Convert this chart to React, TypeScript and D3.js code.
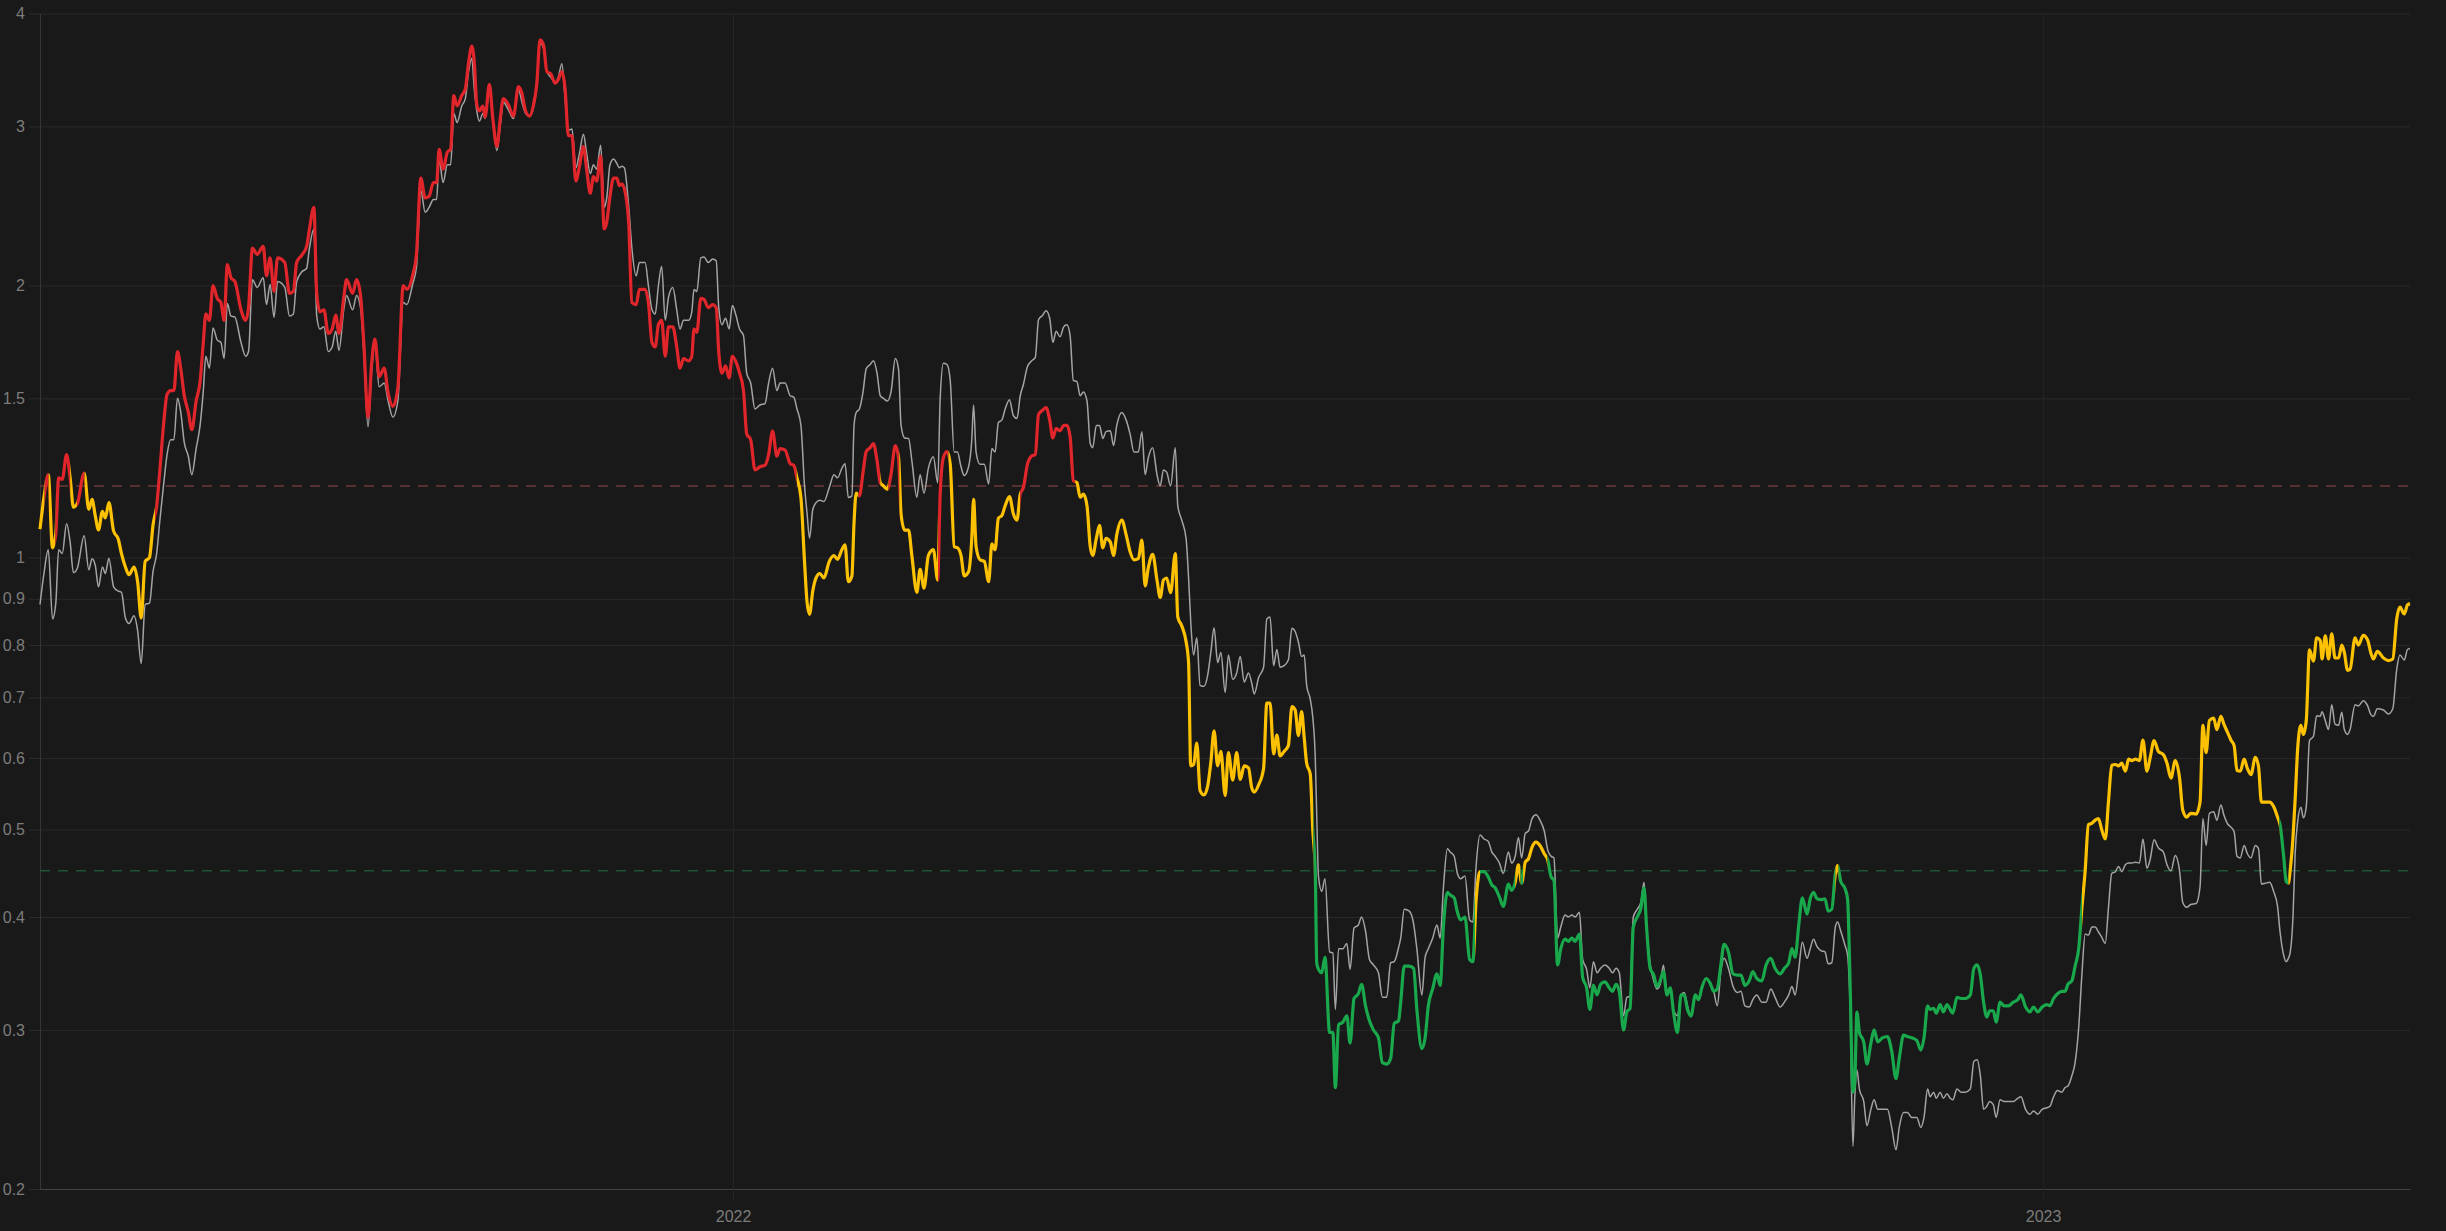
import * as d3 from 'd3';
import { useEffect, useRef } from 'react';

const WIDTH = 2446;
const HEIGHT = 1231;

// day 0 sits on the left edge of the plot (21 June 2021, late evening UTC)
const DAY0 = Date.UTC(2021, 5, 21, 22);
const LAST_DAY = 660.3;

const yTicks = [0.2, 0.3, 0.4, 0.5, 0.6, 0.7, 0.8, 0.9, 1, 1.5, 2, 3, 4];
const yearTicks = ['2022-01-01', '2023-01-01'];
const upperBand = 1.2;
const lowerBand = 0.45;

// colour of the indicator line, switching at these day offsets
const zoneStarts = [
    0, 1.3, 2.4, 4.3, 8.4, 10.3, 12.4, 32.1,
    210.8, 228.0, 234.1, 236.4, 239.4, 250.2, 253.1, 273.1, 288.4,
    354.8, 399.8, 401.2, 411.0, 412.5, 413.2, 420.0,
    500.2, 501.1, 568.9, 623.9, 626.4,
];
const zoneColours = [
    'yellow', 'red', 'yellow', 'red', 'yellow', 'red', 'yellow', 'red',
    'yellow', 'red', 'yellow', 'red', 'yellow', 'red', 'yellow', 'red', 'yellow',
    'green', 'yellow', 'green', 'yellow', 'green', 'yellow', 'green',
    'yellow', 'green', 'yellow', 'green', 'yellow',
];
const palette: Record<string, string> = { red: '#e1262b', yellow: '#fdc103', green: '#19a84c' };

const dayOffsets = [
    0, 1.1, 2.3, 3.5, 4.4, 5.2, 6.2, 7.4, 8.4, 9.3,
    10.4, 12.3, 13.6, 14.5, 15.4, 16.3, 17.4, 18.2, 19.2, 20.5,
    21.8, 22.7, 23.8, 24.8, 26.2, 27.2, 28.2, 29.3, 30.5, 31.5,
    32.5, 33.4, 34.4, 35.4, 36.4, 37.3, 38.3, 39.2, 40.2, 41.3,
    42.3, 43.5, 44.6, 45.5, 46.2, 47.2, 48.2, 49.4, 50.4, 51.3,
    52.2, 53.2, 54.3, 56.0, 57.3, 58.1, 59.2, 60.5, 62.2, 63.1,
    64.1, 65.2, 66.2, 68.2, 69.5, 70.6, 71.5, 72.9, 74.3, 75.0,
    76.3, 77.1, 78.0, 79.1, 80.3, 81.4, 82.4, 83.3, 84.7, 85.4,
    87.1, 88.2, 89.3, 90.2, 91.4, 92.4, 93.3, 94.5, 95.9, 97.0,
    98.3, 99.7, 101.2, 102.2, 103.8, 104.9, 106.1, 107.3, 108.4, 109.6,
    110.5, 111.2, 112.3, 113.5, 114.4, 115.3, 116.2, 117.5, 118.5, 119.4,
    120.3, 121.0, 121.7, 122.4, 123.4, 124.0, 125.2, 126.2, 127.3, 128.2,
    129.1, 130.5, 131.9, 133.3, 134.2, 135.3, 136.4, 137.5, 138.4, 139.3,
    140.3, 141.2, 142.3, 143.5, 144.4, 145.4, 146.3, 147.2, 148.2, 149.3,
    150.3, 151.4, 152.3, 153.3, 154.2, 155.1, 156.2, 157.2, 157.9, 158.8,
    159.8, 160.7, 161.4, 162.1, 162.8, 164.0, 164.9, 166.1, 167.0, 168.6,
    169.5, 170.5, 171.4, 172.3, 173.2, 174.2, 175.1, 176.3, 177.4, 178.3,
    179.3, 180.7, 181.6, 182.2, 183.0, 184.1, 185.0, 186.2, 187.4, 188.4,
    189.1, 190.0, 191.0, 192.0, 192.9, 193.8, 194.9, 196.0, 196.9, 198.0,
    199.2, 200.6, 202.0, 203.0, 204.1, 205.3, 206.2, 207.6, 209.0, 210.0,
    210.9, 212.0, 213.0, 213.7, 214.4, 215.3, 216.2, 217.3, 218.4, 219.9,
    221.2, 222.2, 223.4, 224.3, 225.2, 226.2, 226.8, 227.4, 228.3, 229.3,
    230.2, 231.3, 232.2, 233.2, 234.1, 235.0, 236.1, 237.1, 238.3, 239.2,
    239.9, 240.9, 242.0, 242.9, 244.3, 245.2, 246.3, 247.5, 248.9, 250.1,
    250.8, 251.7, 252.7, 253.6, 254.7, 255.6, 256.6, 257.5, 258.7, 259.6,
    260.1, 260.8, 261.9, 263.1, 264.3, 265.2, 266.1, 267.0, 268.0, 268.9,
    270.1, 271.2, 272.2, 273.1, 274.0, 275.1, 276.3, 277.3, 278.2, 279.3,
    280.3, 281.3, 282.2, 283.1, 284.2, 285.2, 286.1, 287.0, 287.9, 288.9,
    289.8, 290.7, 291.7, 292.6, 293.3, 294.3, 295.2, 296.1, 297.0, 298.2,
    299.1, 300.0, 301.4, 302.6, 303.7, 304.8, 306.0, 307.0, 307.9, 308.8,
    310.0, 311.2, 312.1, 313.0, 313.9, 315.0, 316.3, 317.0, 318.1, 319.3,
    320.0, 320.6, 321.4, 322.3, 323.2, 324.3, 325.3, 326.2, 327.1, 328.1,
    329.0, 330.2, 331.1, 332.3, 333.4, 334.4, 335.5, 336.7, 337.6, 338.3,
    339.5, 340.9, 341.8, 342.7, 343.7, 344.6, 345.5, 346.6, 347.8, 348.8,
    349.7, 350.6, 351.5, 352.2, 352.9, 353.9, 354.6, 355.3, 355.7, 356.2,
    357.1, 358.0, 359.3, 360.2, 360.9, 361.8, 363.0, 364.1, 365.0, 366.1,
    367.3, 368.2, 369.3, 370.4, 371.5, 372.9, 374.0, 375.2, 376.3, 377.3,
    378.5, 379.1, 380.1, 381.5, 382.7, 383.6, 385.0, 385.9, 386.8, 388.0,
    389.2, 390.1, 391.0, 392.1, 392.9, 394.0, 394.9, 395.8, 397.0, 398.3,
    399.2, 400.1, 401.2, 402.3, 403.5, 404.5, 405.4, 406.6, 407.7, 409.1,
    410.0, 411.0, 411.9, 412.8, 413.8, 414.7, 415.7, 416.8, 417.9, 419.1,
    420.1, 421.0, 421.8, 422.8, 423.7, 424.9, 425.8, 426.8, 427.7, 428.9,
    429.8, 430.9, 431.8, 432.8, 433.8, 434.8, 436.0, 437.2, 438.1, 439.1,
    440.0, 441.2, 442.1, 443.0, 443.9, 445.0, 446.0, 446.9, 447.6, 448.6,
    449.6, 450.5, 451.4, 452.3, 453.3, 454.2, 455.1, 456.2, 457.2, 458.1,
    459.0, 460.0, 461.2, 462.1, 463.0, 464.2, 465.3, 466.3, 467.3, 468.3,
    469.2, 470.4, 471.7, 472.9, 473.9, 475.0, 476.2, 477.2, 478.3, 479.7,
    480.9, 482.2, 483.4, 484.8, 486.0, 487.2, 488.1, 489.0, 490.0, 491.0,
    492.3, 493.2, 494.1, 495.1, 496.3, 497.3, 498.2, 499.2, 500.2, 500.8,
    501.7, 502.9, 503.6, 504.3, 505.1, 505.6, 506.2, 506.9, 508.1, 509.0,
    510.1, 511.0, 512.0, 513.3, 514.7, 515.9, 517.1, 518.0, 519.2, 520.3,
    521.5, 522.9, 524.0, 524.9, 525.9, 526.6, 527.6, 528.3, 529.4, 530.3,
    531.3, 532.2, 532.9, 534.1, 535.2, 536.4, 537.8, 538.8, 539.7, 540.6,
    541.5, 542.4, 543.2, 544.2, 545.0, 546.1, 547.2, 548.4, 549.8, 551.0,
    551.9, 553.2, 554.4, 555.4, 556.6, 557.8, 559.1, 560.0, 561.0, 562.1,
    563.3, 564.2, 565.0, 566.1, 567.0, 568.0, 568.9, 569.8, 570.7, 571.7,
    572.6, 573.5, 574.4, 575.4, 576.3, 577.2, 578.2, 579.1, 580.0, 581.0,
    581.9, 582.8, 583.8, 584.9, 585.9, 587.0, 587.9, 589.0, 590.2, 591.6,
    592.6, 593.7, 594.9, 596.1, 597.0, 598.1, 599.2, 600.7, 601.8, 602.6,
    603.5, 604.4, 605.6, 606.5, 607.6, 608.5, 609.5, 610.4, 611.3, 612.1,
    613.0, 614.1, 615.0, 616.0, 617.2, 618.1, 618.9, 620.0, 621.2, 622.3,
    623.4, 624.1, 625.1, 625.8, 626.4, 626.9, 627.7, 628.3, 629.0, 629.9,
    630.6, 631.4, 632.3, 633.4, 634.3, 635.3, 635.8, 636.7, 637.6, 638.5,
    639.4, 640.4, 641.3, 642.0, 642.9, 643.6, 645.0, 645.9, 647.3, 648.5,
    649.4, 650.1, 651.2, 652.9, 654.3, 655.5, 656.6, 657.5, 658.7, 659.6,
    660.3,
];

// thick coloured line
const indicatorValues = [
    1.075, 1.165, 1.235, 1.025, 1.063, 1.225, 1.22, 1.30, 1.225, 1.137,
    1.147, 1.24, 1.13, 1.16, 1.112, 1.073, 1.125, 1.106, 1.15, 1.07,
    1.048, 1.01, 0.976, 0.957, 0.976, 0.94, 0.857, 0.99, 1.0, 1.087,
    1.14, 1.25, 1.40, 1.515, 1.53, 1.53, 1.69, 1.62, 1.51, 1.45,
    1.385, 1.49, 1.565, 1.73, 1.86, 1.83, 2.0, 1.935, 1.915, 1.83,
    2.11, 2.04, 2.02, 1.88, 1.83, 1.89, 2.20, 2.165, 2.21, 2.05,
    2.146, 1.97, 2.146, 2.12, 1.96, 1.97, 2.12, 2.16, 2.21, 2.30,
    2.44, 1.96, 1.87, 1.88, 1.77, 1.79, 1.855, 1.77, 1.95, 2.03,
    1.96, 2.03, 1.95, 1.73, 1.43, 1.64, 1.745, 1.585, 1.62, 1.52,
    1.47, 1.54, 2.0, 1.98, 2.05, 2.17, 2.63, 2.50, 2.51, 2.60,
    2.60, 2.83, 2.69, 2.81, 2.83, 3.245, 3.16, 3.245, 3.30, 3.53,
    3.68, 3.53, 3.17, 3.12, 3.16, 3.07, 3.34, 3.05, 2.85, 3.05,
    3.22, 3.17, 3.08, 3.32, 3.27, 3.12, 3.08, 3.17, 3.34, 3.74,
    3.69, 3.45, 3.43, 3.35, 3.38, 3.45, 3.30, 2.93, 2.93, 2.61,
    2.71, 2.85, 2.69, 2.53, 2.64, 2.61, 2.78, 2.31, 2.35, 2.51,
    2.63, 2.63, 2.58, 2.59, 2.56, 2.35, 1.915, 1.905, 1.98, 1.98,
    1.915, 1.73, 1.71, 1.81, 1.83, 1.67, 1.80, 1.80, 1.71, 1.62,
    1.66, 1.65, 1.67, 1.79, 1.775, 1.935, 1.93, 1.89, 1.905, 1.89,
    1.69, 1.60, 1.63, 1.58, 1.67, 1.65, 1.60, 1.53, 1.37, 1.35,
    1.25, 1.26, 1.265, 1.30, 1.38, 1.295, 1.32, 1.315, 1.27, 1.265,
    1.225, 1.165, 0.99, 0.893, 0.865, 0.918, 0.949, 0.96, 0.949, 0.99,
    1.005, 0.995, 1.02, 1.033, 0.94, 0.954, 1.094, 1.178, 1.17, 1.242,
    1.31, 1.323, 1.337, 1.28, 1.21, 1.20, 1.19, 1.236, 1.33, 1.29,
    1.117, 1.072, 1.072, 1.005, 0.915, 0.97, 0.925, 1.005, 1.02, 0.944,
    1.178, 1.29, 1.31, 1.268, 1.028, 1.025, 1.005, 0.954, 0.964, 1.05,
    1.16, 1.028, 0.994, 0.99, 0.94, 1.035, 1.02, 1.105, 1.113, 1.141,
    1.168, 1.117, 1.10, 1.175, 1.196, 1.268, 1.295, 1.30, 1.44, 1.455,
    1.465, 1.42, 1.356, 1.39, 1.381, 1.40, 1.40, 1.36, 1.216, 1.21,
    1.166, 1.175, 1.141, 1.028, 1.005, 1.05, 1.085, 1.025, 1.05, 1.04,
    1.005, 1.06, 1.10, 1.06, 1.015, 0.994, 0.997, 1.045, 0.93, 0.975,
    1.008, 0.944, 0.903, 0.944, 0.949, 0.914, 1.01, 0.859, 0.84, 0.807,
    0.765, 0.588, 0.59, 0.623, 0.552, 0.546, 0.558, 0.593, 0.643, 0.588,
    0.61, 0.545, 0.608, 0.567, 0.608, 0.568, 0.588, 0.585, 0.556, 0.55,
    0.56, 0.584, 0.69, 0.69, 0.606, 0.636, 0.603, 0.61, 0.619, 0.684,
    0.678, 0.635, 0.675, 0.633, 0.592, 0.576, 0.50, 0.45, 0.356, 0.35,
    0.347, 0.361, 0.298, 0.298, 0.259, 0.304, 0.306, 0.311, 0.29, 0.325,
    0.329, 0.337, 0.319, 0.307, 0.30, 0.294, 0.276, 0.275, 0.279, 0.305,
    0.307, 0.322, 0.353, 0.353, 0.351, 0.316, 0.286, 0.294, 0.319, 0.333,
    0.346, 0.336, 0.39, 0.426, 0.423, 0.42, 0.405, 0.397, 0.40, 0.359,
    0.357, 0.417, 0.449, 0.449, 0.443, 0.434, 0.431, 0.421, 0.411, 0.435,
    0.428, 0.437, 0.457, 0.436, 0.46, 0.464, 0.478, 0.484, 0.48, 0.47,
    0.462, 0.443, 0.439, 0.354, 0.369, 0.378, 0.376, 0.379, 0.376, 0.383,
    0.343, 0.334, 0.316, 0.336, 0.328, 0.337, 0.339, 0.334, 0.331, 0.337,
    0.331, 0.30, 0.314, 0.317, 0.39, 0.40, 0.409, 0.431, 0.39, 0.351,
    0.345, 0.335, 0.34, 0.348, 0.328, 0.334, 0.314, 0.298, 0.328, 0.328,
    0.316, 0.311, 0.328, 0.324, 0.334, 0.342, 0.338, 0.331, 0.333, 0.354,
    0.373, 0.366, 0.346, 0.345, 0.345, 0.336, 0.34, 0.348, 0.342, 0.34,
    0.354, 0.36, 0.351, 0.346, 0.351, 0.356, 0.369, 0.361, 0.392, 0.42,
    0.403, 0.419, 0.426, 0.419, 0.418, 0.419, 0.406, 0.408, 0.447, 0.456,
    0.438, 0.43, 0.419, 0.339, 0.256, 0.262, 0.314, 0.298, 0.291, 0.275,
    0.29, 0.30, 0.291, 0.294, 0.295, 0.284, 0.265, 0.279, 0.296, 0.295,
    0.294, 0.292, 0.285, 0.294, 0.319, 0.316, 0.317, 0.313, 0.32, 0.314,
    0.32, 0.316, 0.313, 0.326, 0.325, 0.325, 0.328, 0.351, 0.354, 0.345,
    0.322, 0.31, 0.315, 0.315, 0.306, 0.322, 0.319, 0.319, 0.322, 0.324,
    0.328, 0.318, 0.314, 0.318, 0.314, 0.318, 0.32, 0.319, 0.325, 0.329,
    0.331, 0.331, 0.337, 0.34, 0.353, 0.369, 0.41, 0.45, 0.506, 0.508,
    0.512, 0.514, 0.50, 0.488, 0.537, 0.589, 0.59, 0.588, 0.592, 0.58,
    0.598, 0.596, 0.598, 0.596, 0.628, 0.58, 0.60, 0.627, 0.61, 0.605,
    0.592, 0.57, 0.596, 0.57, 0.525, 0.516, 0.521, 0.52, 0.536, 0.652,
    0.608, 0.66, 0.664, 0.645, 0.667, 0.653, 0.64, 0.628, 0.619, 0.581,
    0.58, 0.598, 0.584, 0.575, 0.601, 0.587, 0.536, 0.536, 0.536, 0.53,
    0.516, 0.506, 0.467, 0.438, 0.436, 0.45, 0.49, 0.54, 0.614, 0.652,
    0.637, 0.66, 0.79, 0.768, 0.815, 0.809, 0.772, 0.819, 0.772, 0.823,
    0.774, 0.774, 0.80, 0.785, 0.75, 0.752, 0.815, 0.80, 0.82, 0.81,
    0.784, 0.772, 0.787, 0.774, 0.769, 0.772, 0.855, 0.881, 0.866, 0.886,
    0.889,
];

// thin grey line
const referenceValues = [
    0.887, 0.96, 1.02, 0.855, 0.89, 1.02, 1.01, 1.09, 1.04, 0.962,
    0.973, 1.057, 0.969, 0.997, 0.98, 0.928, 0.976, 0.96, 0.998, 0.928,
    0.918, 0.915, 0.857, 0.845, 0.862, 0.83, 0.763, 0.887, 0.89, 0.965,
    1.01, 1.10, 1.20, 1.30, 1.35, 1.35, 1.50, 1.45, 1.34, 1.295,
    1.235, 1.32, 1.40, 1.53, 1.67, 1.62, 1.795, 1.74, 1.73, 1.66,
    1.91, 1.85, 1.845, 1.73, 1.67, 1.69, 2.03, 1.99, 2.04, 1.905,
    2.005, 1.845, 2.02, 1.99, 1.85, 1.86, 2.02, 2.07, 2.09, 2.19,
    2.31, 1.85, 1.79, 1.80, 1.69, 1.71, 1.78, 1.695, 1.89, 1.95,
    1.88, 1.95, 1.89, 1.69, 1.395, 1.61, 1.72, 1.545, 1.56, 1.49,
    1.43, 1.49, 1.915, 1.905, 2.005, 2.10, 2.55, 2.41, 2.44, 2.49,
    2.49, 2.76, 2.60, 2.72, 2.72, 3.10, 3.03, 3.16, 3.22, 3.45,
    3.57, 3.30, 3.12, 3.04, 3.10, 3.06, 3.28, 3.04, 2.82, 3.0,
    3.19, 3.13, 3.06, 3.30, 3.20, 3.10, 3.08, 3.15, 3.32, 3.71,
    3.66, 3.45, 3.40, 3.36, 3.40, 3.52, 3.22, 2.97, 2.98, 2.70,
    2.80, 2.94, 2.80, 2.66, 2.72, 2.69, 2.86, 2.44, 2.50, 2.72,
    2.76, 2.73, 2.70, 2.71, 2.70, 2.45, 2.2, 2.05, 2.12, 2.12,
    2.0, 1.88, 1.86, 2.0, 2.10, 1.83, 1.94, 1.99, 1.88, 1.79,
    1.83, 1.83, 1.87, 1.98, 1.97, 2.146, 2.15, 2.12, 2.14, 2.13,
    1.89, 1.81, 1.84, 1.79, 1.90, 1.86, 1.79, 1.76, 1.60, 1.56,
    1.46, 1.475, 1.48, 1.56, 1.62, 1.53, 1.56, 1.56, 1.51, 1.505,
    1.46, 1.40, 1.20, 1.12, 1.05, 1.13, 1.15, 1.157, 1.153, 1.195,
    1.235, 1.225, 1.255, 1.27, 1.165, 1.17, 1.40, 1.447, 1.46, 1.525,
    1.618, 1.635, 1.651, 1.60, 1.51, 1.50, 1.49, 1.525, 1.66, 1.615,
    1.40, 1.356, 1.354, 1.28, 1.166, 1.235, 1.178, 1.255, 1.293, 1.21,
    1.50, 1.64, 1.635, 1.57, 1.308, 1.308, 1.26, 1.232, 1.26, 1.35,
    1.475, 1.308, 1.268, 1.268, 1.206, 1.32, 1.308, 1.41, 1.42, 1.46,
    1.495, 1.435, 1.425, 1.51, 1.555, 1.626, 1.651, 1.665, 1.833, 1.853,
    1.875, 1.84, 1.73, 1.78, 1.755, 1.80, 1.81, 1.76, 1.57, 1.565,
    1.51, 1.525, 1.49, 1.337, 1.323, 1.40, 1.40, 1.354, 1.378, 1.381,
    1.33, 1.40, 1.447, 1.42, 1.37, 1.308, 1.308, 1.378, 1.235, 1.29,
    1.323, 1.235, 1.20, 1.25, 1.243, 1.20, 1.323, 1.14, 1.10, 1.05,
    0.95, 0.85, 0.78, 0.815, 0.722, 0.72, 0.74, 0.785, 0.836, 0.765,
    0.785, 0.709, 0.78, 0.733, 0.745, 0.777, 0.728, 0.745, 0.726, 0.706,
    0.736, 0.756, 0.855, 0.859, 0.759, 0.791, 0.756, 0.759, 0.77, 0.835,
    0.828, 0.806, 0.777, 0.78, 0.722, 0.697, 0.666, 0.60, 0.52, 0.443,
    0.427, 0.441, 0.366, 0.365, 0.316, 0.369, 0.369, 0.374, 0.35, 0.389,
    0.392, 0.40, 0.386, 0.359, 0.354, 0.347, 0.326, 0.326, 0.356, 0.357,
    0.37, 0.379, 0.408, 0.406, 0.393, 0.369, 0.328, 0.361, 0.369, 0.379,
    0.392, 0.379, 0.431, 0.476, 0.472, 0.467, 0.447, 0.441, 0.444, 0.397,
    0.395, 0.455, 0.493, 0.488, 0.485, 0.472, 0.467, 0.459, 0.447, 0.472,
    0.459, 0.467, 0.49, 0.465, 0.495, 0.498, 0.514, 0.519, 0.512, 0.498,
    0.474, 0.467, 0.465, 0.379, 0.39, 0.402, 0.40, 0.402, 0.40, 0.405,
    0.359, 0.35, 0.334, 0.357, 0.347, 0.351, 0.354, 0.351, 0.347, 0.351,
    0.347, 0.311, 0.326, 0.327, 0.40, 0.408, 0.415, 0.437, 0.39, 0.355,
    0.34, 0.333, 0.337, 0.354, 0.328, 0.333, 0.316, 0.311, 0.328, 0.33,
    0.319, 0.31, 0.327, 0.324, 0.334, 0.342, 0.338, 0.331, 0.319, 0.348,
    0.36, 0.351, 0.335, 0.33, 0.331, 0.319, 0.318, 0.324, 0.328, 0.322,
    0.322, 0.333, 0.326, 0.318, 0.322, 0.328, 0.335, 0.328, 0.35, 0.375,
    0.36, 0.369, 0.378, 0.371, 0.367, 0.366, 0.355, 0.356, 0.39, 0.395,
    0.386, 0.372, 0.363, 0.319, 0.223, 0.252, 0.271, 0.258, 0.25, 0.235,
    0.245, 0.251, 0.245, 0.245, 0.245, 0.234, 0.221, 0.234, 0.243, 0.243,
    0.24, 0.24, 0.234, 0.24, 0.258, 0.253, 0.256, 0.252, 0.256, 0.252,
    0.255, 0.252, 0.251, 0.258, 0.256, 0.256, 0.258, 0.277, 0.278, 0.267,
    0.245, 0.247, 0.25, 0.248, 0.24, 0.251, 0.25, 0.25, 0.25, 0.252,
    0.253, 0.245, 0.242, 0.244, 0.242, 0.245, 0.246, 0.247, 0.253, 0.257,
    0.256, 0.259, 0.26, 0.267, 0.276, 0.302, 0.346, 0.383, 0.382, 0.39,
    0.39, 0.385, 0.38, 0.374, 0.41, 0.447, 0.449, 0.455, 0.449, 0.457,
    0.459, 0.459, 0.46, 0.459, 0.488, 0.453, 0.463, 0.487, 0.477, 0.472,
    0.457, 0.45, 0.468, 0.45, 0.415, 0.41, 0.413, 0.414, 0.432, 0.514,
    0.48, 0.521, 0.523, 0.512, 0.532, 0.518, 0.507, 0.503, 0.497, 0.467,
    0.465, 0.48, 0.47, 0.465, 0.48, 0.476, 0.435, 0.436, 0.437, 0.427,
    0.411, 0.385, 0.363, 0.357, 0.36, 0.365, 0.40, 0.47, 0.51, 0.529,
    0.515, 0.53, 0.627, 0.634, 0.668, 0.667, 0.675, 0.66, 0.645, 0.687,
    0.654, 0.652, 0.674, 0.645, 0.637, 0.645, 0.687, 0.685, 0.694, 0.685,
    0.67, 0.667, 0.68, 0.678, 0.671, 0.68, 0.752, 0.78, 0.77, 0.791,
    0.793,
];

const toDate = (day: number) => new Date(DAY0 + day * 86400000);

export default function App() {
    const svgRef = useRef<SVGSVGElement | null>(null);

    useEffect(() => {
        const node = svgRef.current;
        if (!node) return;

        const left = 40, right = 2410, top = 13.5, bottom = 1189;
        const font = '"Liberation Sans", Arial, sans-serif';

        const svg = d3.select(node);
        svg.selectAll('*').remove();

        const x = d3.scaleUtc()
            .domain([toDate(0), toDate(LAST_DAY)])
            .range([left, right]);

        const y = d3.scaleLog()
            .domain([0.2, 4])
            .range([bottom, top]);

        const yearDates = yearTicks.map(s => new Date(s + 'T00:00:00Z'));

        // horizontal grid
        svg.append('g')
            .attr('transform', `translate(${left},0)`)
            .call(d3.axisLeft(y).tickValues(yTicks).tickSize(-(right - left)).tickSizeOuter(0).tickFormat(() => ''))
            .call(g => g.select('.domain').remove())
            .call(g => g.selectAll('.tick line').attr('stroke', '#2a2a2a'));

        // vertical grid at each year
        svg.append('g')
            .attr('transform', `translate(0,${bottom})`)
            .call(d3.axisBottom(x).tickValues(yearDates).tickSize(-(bottom - top)).tickSizeOuter(0).tickFormat(() => ''))
            .call(g => g.select('.domain').remove())
            .call(g => g.selectAll('.tick line').attr('stroke', '#262626'));

        // left axis with labels
        const yAxis = svg.append('g')
            .attr('transform', `translate(${left},0)`)
            .call(d3.axisLeft(y).tickValues(yTicks).tickSize(11).tickSizeOuter(0).tickPadding(4)
                .tickFormat(d => d3.format('~g')(d as number)));
        yAxis.select('.domain').attr('stroke', '#363636');
        yAxis.selectAll('.tick line').attr('stroke', '#2c2c2c');
        yAxis.selectAll('.tick text')
            .attr('fill', '#7c7c7c')
            .attr('font-size', 16)
            .attr('font-family', font);

        // bottom axis with year labels
        const xAxis = svg.append('g')
            .attr('transform', `translate(0,${bottom})`)
            .call(d3.axisBottom(x).tickValues(yearDates).tickSize(12).tickSizeOuter(0).tickPadding(10)
                .tickFormat(d => d3.utcFormat('%Y')(d as Date)));
        xAxis.select('.domain').attr('stroke', '#444444');
        xAxis.selectAll('.tick line').attr('stroke', '#262626');
        xAxis.selectAll('.tick text')
            .attr('fill', '#7c7c7c')
            .attr('font-size', 16)
            .attr('font-family', font);

        // dashed band lines
        svg.append('line')
            .attr('x1', left).attr('x2', right)
            .attr('y1', y(upperBand)).attr('y2', y(upperBand))
            .attr('stroke', '#6c3939')
            .attr('stroke-width', 1.5)
            .attr('stroke-dasharray', '10 8');

        svg.append('line')
            .attr('x1', left).attr('x2', right)
            .attr('y1', y(lowerBand)).attr('y2', y(lowerBand))
            .attr('stroke', '#1f5434')
            .attr('stroke-width', 1.5)
            .attr('stroke-dasharray', '10 8');

        const n = Math.min(dayOffsets.length, indicatorValues.length, referenceValues.length);
        const idx = d3.range(n);

        const refLine = d3.line<number>()
            .x(i => x(toDate(dayOffsets[i])))
            .y(i => y(referenceValues[i]))
            .curve(d3.curveMonotoneX);

        const indLine = d3.line<number>()
            .x(i => x(toDate(dayOffsets[i])))
            .y(i => y(indicatorValues[i]))
            .curve(d3.curveMonotoneX);

        svg.append('path')
            .attr('d', refLine(idx) as string)
            .attr('fill', 'none')
            .attr('stroke', '#a4a4a4')
            .attr('stroke-width', 1.5)
            .attr('stroke-linejoin', 'round');

        // coloured line: the same path, clipped to each colour zone
        const defs = svg.append('defs');
        const indPath = indLine(idx) as string;
        zoneStarts.forEach((start, k) => {
            const end = k + 1 < zoneStarts.length ? zoneStarts[k + 1] : LAST_DAY + 2;
            const x0 = k === 0 ? 0 : x(toDate(start));
            const x1 = k + 1 < zoneStarts.length ? x(toDate(end)) : WIDTH;
            defs.append('clipPath')
                .attr('id', `zone-${k}`)
                .append('rect')
                .attr('x', x0)
                .attr('y', 0)
                .attr('width', Math.max(0, x1 - x0))
                .attr('height', HEIGHT);

            svg.append('path')
                .attr('d', indPath)
                .attr('fill', 'none')
                .attr('stroke', palette[zoneColours[k]])
                .attr('stroke-width', 3.2)
                .attr('stroke-linejoin', 'round')
                .attr('clip-path', `url(#zone-${k})`);
        });
    }, []);

    return (
        <div style={{ position: 'fixed', left: 0, top: 0, width: WIDTH, height: HEIGHT, background: '#191919' }}>
            <svg ref={svgRef} width={WIDTH} height={HEIGHT} style={{ display: 'block' }} />
        </div>
    );
}
